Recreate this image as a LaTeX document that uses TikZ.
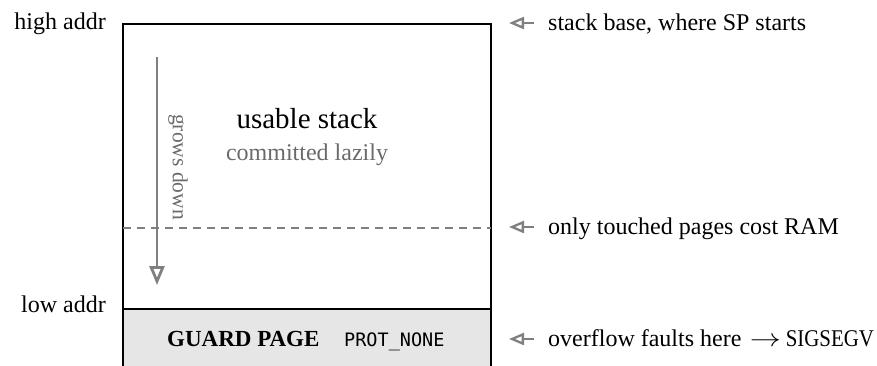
\documentclass[tikz,border=0pt]{standalone}
\usepackage{graphicx}
\usepackage{fontspec}
\setmainfont{Liberation Serif}
\setmonofont{DejaVu Sans Mono}
\usetikzlibrary{arrows.meta}
\definecolor{lgray}{HTML}{808080}
\definecolor{tgray}{HTML}{6A6A6A}
\definecolor{guardfill}{HTML}{E6E6E6}
\begin{document}
\begin{tikzpicture}[x=1pt,y=-1pt,
  body/.style={inner sep=0pt, font=\fontsize{24}{28}\selectfont},
  note/.style={body, anchor=base west},
  pointer/.style={draw=lgray, line width=2.3pt, -{Triangle[open, length=15pt, width=12pt, line width=2.3pt]}},
  wall/.style={draw=black, line width=2.7pt}
]
\useasboundingbox (0,0) rectangle (877,365);
\clip (0,0) rectangle (877,365);
% guard page
\fill[guardfill] (123,309) rectangle (491,380);
% main box
\draw[wall] (123,380) -- (123,24) -- (491,24) -- (491,380);
\draw[wall] (123,309) -- (491,309);
% dashed commit line
\coordinate (dl) at (123,228);
\coordinate (dr) at (491,228);
\draw[lgray, line width=2.5pt, dash pattern=on 8pt off 6pt] (dl) -- (dr);
% grows down arrow
\coordinate (gtop) at (157,57);
\coordinate (gbot) at (157,285);
\draw[lgray, line width=2.8pt, -{Triangle[open, length=19pt, width=15pt, line width=2.8pt]}] (gtop) -- (gbot);
\node[body, text=tgray, rotate=-90, font=\fontsize{21.5}{24}\selectfont] (grows) at (178,167) {grows down};
% usable stack
\node[body, anchor=base, font=\fontsize{29}{32}\selectfont] (usable) at (307,128) {usable stack};
\node[body, anchor=base, text=tgray] (lazy) at (307,160) {committed lazily};
% guard page text
\node[inner sep=0pt, anchor=base west, font=\fontsize{23}{26}\selectfont\bfseries] (guard) at (167,346) {GUARD PAGE};
\node[inner sep=0pt, anchor=base west, font=\fontsize{18.5}{22}\ttfamily] (prot) at (344,346) {PROT\_NONE};
% addr labels
\node[body, anchor=base east] (high) at (106,29) {high addr};
\node[body, anchor=base east] (low) at (106,312) {low addr};
% right notes
\node[note] (n1) at (548,30) {stack base, where SP starts};
\node[note] (n2) at (548,234) {only touched pages cost RAM};
\node[note] (n3) at (548,346) {overflow faults here\hspace{0.35em}\scalebox{1.25}[1]{$\rightarrow$}\hspace{0.2em}\scalebox{0.87}[1]{SIGSEGV}};
\coordinate (t1) at (509,23);
\coordinate (t2) at (509,227);
\coordinate (t3) at (509,339);
\draw[pointer] ([xshift=-14pt]n1.west |- t1) -- (t1);
\draw[pointer] ([xshift=-14pt]n2.west |- t2) -- (t2);
\draw[pointer] ([xshift=-14pt]n3.west |- t3) -- (t3);
\end{tikzpicture}
\end{document}
